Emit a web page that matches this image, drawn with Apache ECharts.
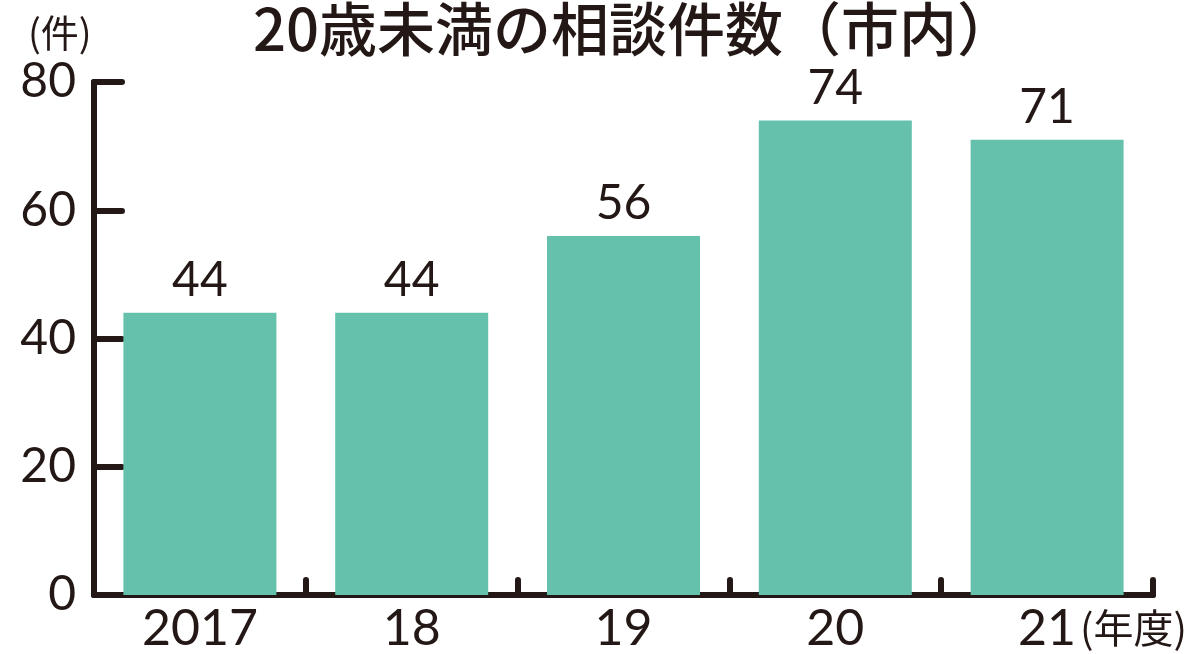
<!DOCTYPE html>
<html>
<head>
<meta charset="utf-8">
<script src="https://cdn.jsdelivr.net/npm/echarts@6/dist/echarts.min.js"></script>
<style>
html,body{margin:0;padding:0;background:#fff;overflow:hidden;}
#c{width:100vw;height:100vh;}
</style>
</head>
<body>
<div id="c"></div>
<script>
const categories = ['2017', '18', '19', '20', '21'];
const values = [44, 44, 56, 74, 71];
const yTicks = [0, 20, 40, 60, 80];
const titleText = '20歳未満の相談件数（市内）';
const yUnit = '(件)';
const xUnit = '(年度)';

const ink = '#231815';
const numFont = 'Lato, "Noto Sans", sans-serif';
const cjkFont = '"Noto Sans CJK JP", "Noto Sans", sans-serif';

const chart = echarts.init(document.getElementById('c'));
chart.setOption({
  backgroundColor: '#ffffff',
  animation: false,
  grid: { left: 94, right: 47, top: 82, bottom: 49, containLabel: false },
  xAxis: {
    type: 'category',
    data: categories,
    axisLine: { show: true, lineStyle: { color: ink, width: 6, cap: 'round' } },
    axisTick: { show: true, inside: true, length: 15, lineStyle: { color: ink, width: 6, cap: 'round' } },
    axisLabel: { color: ink, fontSize: 50, fontWeight: 400, fontFamily: numFont, margin: 9 }
  },
  yAxis: {
    type: 'value',
    min: yTicks[0],
    max: yTicks[yTicks.length - 1],
    interval: yTicks[1] - yTicks[0],
    axisLine: { show: true, lineStyle: { color: ink, width: 6, cap: 'round' } },
    axisTick: { show: true, inside: true, length: 28, lineStyle: { color: ink, width: 6, cap: 'round' } },
    splitLine: { show: false },
    axisLabel: { color: ink, fontSize: 48, fontWeight: 400, fontFamily: numFont, margin: 18 }
  },
  series: [{
    type: 'bar',
    data: values,
    barWidth: 153,
    itemStyle: { color: '#65C1AC' },
    label: { show: true, position: 'top', distance: 8, color: ink, fontSize: 48, fontWeight: 400, fontFamily: numFont }
  }],
  graphic: [
    { type: 'text', left: 253, top: 0, style: { text: titleText, font: '500 58px ' + cjkFont, fill: ink } },
    { type: 'text', left: 28, top: 14, style: { text: yUnit, font: '38px ' + cjkFont, fill: ink } },
    { type: 'text', left: 1080, top: 608, style: { text: xUnit, font: '40px ' + cjkFont, fill: ink } }
  ]
});
</script>
</body>
</html>
